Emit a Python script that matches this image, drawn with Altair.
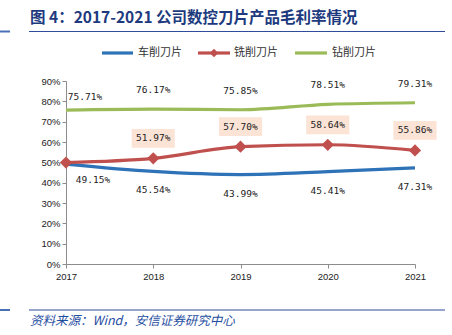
import altair as alt
import pandas as pd

years = [2017, 2018, 2019, 2020, 2021]
series_names = ["车削刀片", "铣削刀片", "钻削刀片"]
turning = [49.15, 45.54, 43.99, 45.41, 47.31]
milling = [49.90, 51.97, 57.70, 58.64, 55.86]
milling_labeled = [False, True, True, True, True]
drilling = [75.71, 76.17, 75.85, 78.51, 79.31]
y_ticks = [0, 0.1, 0.2, 0.3, 0.4, 0.5, 0.6, 0.7, 0.8, 0.9]
title_text = "图 4：2017-2021 公司数控刀片产品毛利率情况"
source_text = "资料来源：Wind，安信证券研究中心"

colors = ["#2e72b8", "#c0504d", "#9bbb59"]

rows = []
for name, vals in zip(series_names, [turning, milling, drilling]):
    for i, (yr, v) in enumerate(zip(years, vals)):
        lab = True if name != "铣削刀片" else milling_labeled[i]
        rows.append({"year": yr, "series": name, "value": v / 100,
                     "label": f"{v:.2f}%", "labeled": lab})
df = pd.DataFrame(rows)

W, H = 349, 183
PL, PT = 66, 81

base = alt.Chart(df)
xenc = alt.X("year:Q", scale=alt.Scale(domain=[2017, 2021], nice=False, zero=False),
             axis=alt.Axis(values=years, format="d", title=None, grid=False,
                           labelFont="Liberation Sans", labelFontSize=9.5, labelColor="#222",
                           domainColor="#8c8c8c", tickColor="#8c8c8c", tickSize=4,
                           labelPadding=3, labelFlush=False, labelOverlap=False))
yenc = alt.Y("value:Q", scale=alt.Scale(domain=[0, 0.9], nice=False),
             axis=alt.Axis(values=y_ticks, format=".0%", title=None, grid=False,
                           labelFont="Liberation Sans", labelFontSize=9.5, labelColor="#222",
                           domainColor="#8c8c8c", tickColor="#8c8c8c", tickSize=4,
                           labelPadding=2, labelOverlap=False))
cscale = alt.Color("series:N", scale=alt.Scale(domain=series_names, range=colors), legend=None)

lines = base.mark_line(interpolate="monotone", strokeWidth=3.2).encode(
    x=xenc, y=yenc, color=cscale, detail="series:N")

diamonds = base.transform_filter(alt.datum.series == "铣削刀片").mark_point(
    shape="diamond", filled=True, size=150, opacity=1, color=colors[1]).encode(
    x=xenc, y=yenc)

lab_font = dict(font="DejaVu Sans Mono", fontSize=9.5, color="#222")

green_lab = base.transform_filter(
    (alt.datum.series == "钻削刀片") & (alt.datum.year != 2017)
).mark_text(dy=-19, **lab_font).encode(x=xenc, y=yenc, text="label:N")
green_lab0 = base.transform_filter(
    (alt.datum.series == "钻削刀片") & (alt.datum.year == 2017)
).mark_text(dy=-13, dx=19, **lab_font).encode(x=xenc, y=yenc, text="label:N")

blue_lab = base.transform_filter(
    (alt.datum.series == "车削刀片") & (alt.datum.year != 2017)
).mark_text(dy=19, **lab_font).encode(x=xenc, y=yenc, text="label:N")
blue_lab0 = base.transform_filter(
    (alt.datum.series == "车削刀片") & (alt.datum.year == 2017)
).mark_text(dy=16, dx=27, **lab_font).encode(x=xenc, y=yenc, text="label:N")

red_f = base.transform_filter((alt.datum.series == "铣削刀片") & alt.datum.labeled)
red_box = red_f.mark_point(
    shape="M-1.15,-0.5H1.15V0.5H-1.15Z", filled=True, size=1406, opacity=1,
    color="#fbe3d5", yOffset=-20).encode(x=xenc, y=yenc)
red_lab = red_f.mark_text(dy=-20, **lab_font).encode(x=xenc, y=yenc, text="label:N")

one = pd.DataFrame({"a": [0]})


def txt(text, x, y, **kw):
    return alt.Chart(one).mark_text(text=text, **kw).encode(
        x=alt.value(x - PL), y=alt.value(y - PT))


def hline(x1, x2, y, color, width):
    return alt.Chart(one).mark_rule(color=color, strokeWidth=width).encode(
        x=alt.value(x1 - PL), x2=alt.value(x2 - PL), y=alt.value(y - PT))


title = txt(title_text, 30, 18, align="left", baseline="middle", font="Noto Sans CJK SC",
            fontSize=15.5, fontWeight="bold", color="#1d3a7e")
top_rule = hline(29, 445, 31.5, "#2f4d9a", 1.2)
top_rule_l = hline(0, 10, 31.5, "#4a6fb5", 2)
bot_rule = hline(29, 445, 310, "#2f4d9a", 1.2)
bot_rule_l = hline(0, 10, 310, "#4a6fb5", 2)
source = txt(source_text, 30, 321, align="left", baseline="middle", font="Noto Sans CJK SC",
             fontSize=12.5, fontStyle="italic", color="#1f4e9f")

leg_y = 53
legend_layers = []
leg_pos = [(102, 133, 138), (198, 230, 234), (295, 327, 332)]
for name, col, (x1, x2, tx) in zip(series_names, colors, leg_pos):
    legend_layers.append(hline(x1, x2, leg_y, col, 3.2))
    legend_layers.append(txt(name, tx, leg_y, align="left", baseline="middle",
                             font="Noto Sans CJK SC", fontSize=11, color="#333"))
legend_layers.append(alt.Chart(one).mark_point(shape="diamond", filled=True, size=70,
                                               opacity=1, color=colors[1]).encode(
    x=alt.value(214 - PL), y=alt.value(leg_y - PT)))

chart = alt.layer(
    lines, diamonds, green_lab, green_lab0, blue_lab, blue_lab0, red_box, red_lab,
    title, top_rule, top_rule_l, bot_rule, bot_rule_l, source, *legend_layers
).properties(
    width=W, height=H, autosize="none",
    padding={"left": PL, "top": PT, "right": 452 - PL - W, "bottom": 335 - PT - H},
    background="white"
).configure_view(stroke=None)

chart.save("out.html", embed_options={"renderer": "svg", "actions": False})
